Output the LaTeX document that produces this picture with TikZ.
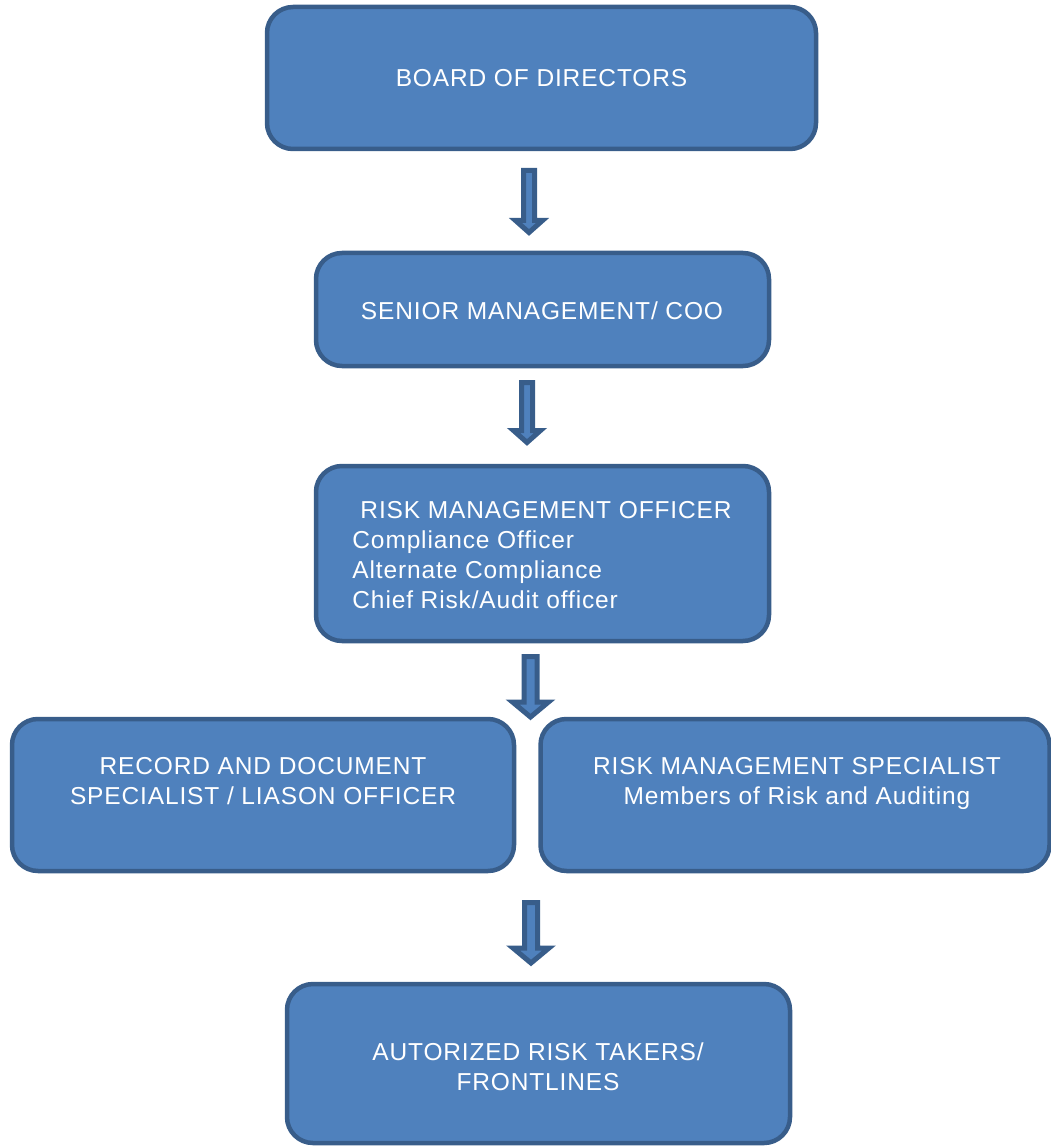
\documentclass[tikz,border=0pt]{standalone}
\usepackage{fontspec}
\setmainfont[LetterSpace=3.5]{Liberation Sans}
\definecolor{boxfill}{HTML}{4F81BD}
\definecolor{boxline}{HTML}{385D8A}
\begin{document}
\begin{tikzpicture}[x=1pt,y=-1pt,
  box/.style={draw=boxline, fill=boxfill, line width=4.5pt, rounded corners=26pt, inner sep=0pt},
  lbl/.style={text=white, font=\fontsize{24.5}{30}\selectfont, align=center, inner sep=0pt},
  blockarrow/.style={draw=boxline, fill=boxfill, line width=5pt, line join=miter}]
\useasboundingbox (0,0) rectangle (1050,1147);

% boxes
\node[box, minimum width=549pt, minimum height=142pt] (board) at (541.5,78) {};
\node[box, minimum width=453pt, minimum height=113pt] (senior) at (542.5,309.5) {};
\node[box, minimum width=453pt, minimum height=175pt] (rmo) at (542.5,553.5) {};
\node[box, minimum width=502pt, minimum height=152pt] (record) at (263,795) {};
\node[box, minimum width=509pt, minimum height=152pt] (spec) at (795,795) {};
\node[box, minimum width=503pt, minimum height=159pt] (front) at (538.5,1063.5) {};

% texts
\node[lbl] (boardtxt) at (541.5,78) {BOARD OF DIRECTORS};
\node[lbl] (seniortxt) at (542,311) {SENIOR MANAGEMENT/ COO};
\node[lbl, align=left] (rmotxt) at (542,555) {\hspace*{8pt}RISK MANAGEMENT OFFICER\\Compliance Officer\\Alternate Compliance\\Chief Risk/Audit officer};
\node[lbl] (recordtxt) at (263,781) {RECORD AND DOCUMENT\\SPECIALIST / LIASON OFFICER};
\node[lbl] (spectxt) at (797,783) {RISK MANAGEMENT SPECIALIST\\Members of Risk and Auditing};
\node[lbl] (fronttxt) at (538,1066.5) {AUTORIZED RISK TAKERS/\\FRONTLINES};

% block arrows
\coordinate (a1) at (529,170.5);
\coordinate (a2) at (527,382.5);
\coordinate (a3) at (530.5,656.5);
\coordinate (a4) at (531,902.5);
\draw[blockarrow] (a1) ++(-5.5,0) -- ++(11,0) -- ++(0,50) -- ++(8,0) -- ++(-13.5,12) -- ++(-13.5,-12) -- ++(8,0) -- cycle;
\draw[blockarrow] (a2) ++(-5.5,0) -- ++(11,0) -- ++(0,48) -- ++(8,0) -- ++(-13.5,12) -- ++(-13.5,-12) -- ++(8,0) -- cycle;
\draw[blockarrow] (a3) ++(-6.5,0) -- ++(13,0) -- ++(0,45.5) -- ++(11.5,0) -- ++(-18,15) -- ++(-18,-15) -- ++(11.5,0) -- cycle;
\draw[blockarrow] (a4) ++(-6.5,0) -- ++(13,0) -- ++(0,45.5) -- ++(11.5,0) -- ++(-18,15) -- ++(-18,-15) -- ++(11.5,0) -- cycle;
\end{tikzpicture}
\end{document}
